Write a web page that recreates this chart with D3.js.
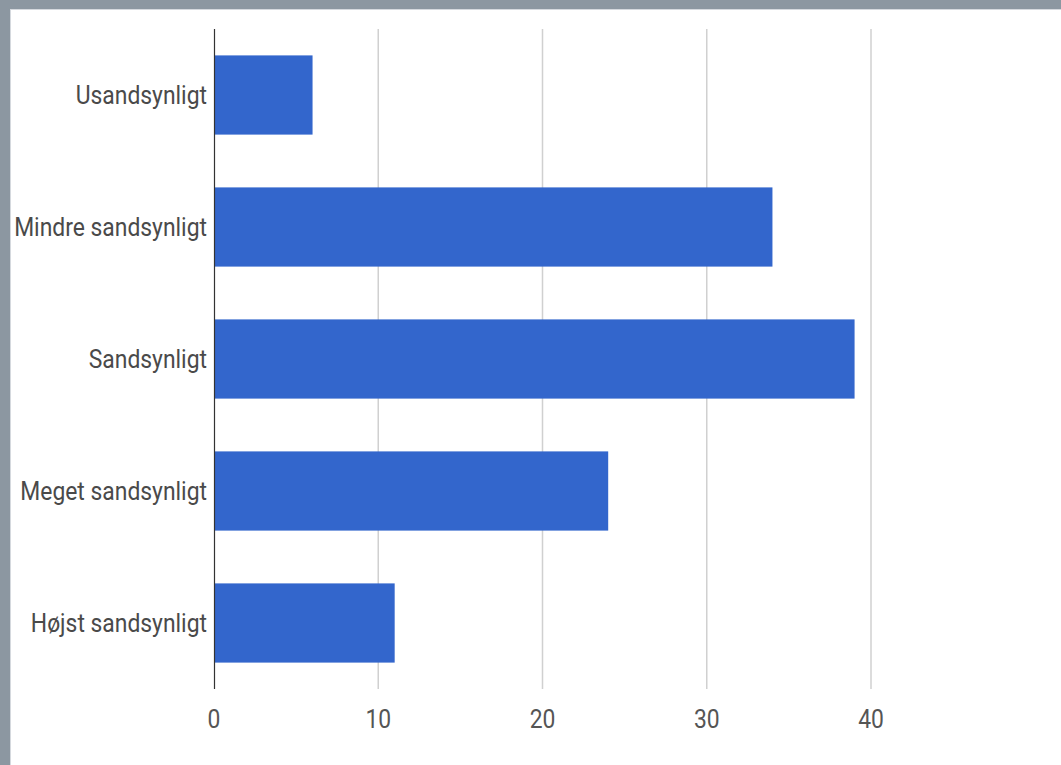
<!DOCTYPE html>
<html><head><meta charset="utf-8">
<script src="https://cdn.jsdelivr.net/npm/d3@7"></script>
<style>
html,body{margin:0;padding:0;background:#fff;}
svg{display:block;}
</style></head>
<body>
<svg id="c" width="1061" height="765"></svg>
<script>
const categories = ["Usandsynligt","Mindre sandsynligt","Sandsynligt","Meget sandsynligt","Højst sandsynligt"];
const values = [6, 34, 39, 24, 11];
const tickValues = [0, 10, 20, 30, 40];

const svg = d3.select("#c");
const W = 1061, H = 765;
// frame
svg.append("rect").attr("x",0).attr("y",0).attr("width",W).attr("height",H).attr("fill","#fff");
svg.append("rect").attr("x",0).attr("y",0).attr("width",W).attr("height",9).attr("fill","#8c97a1");
svg.append("rect").attr("x",0).attr("y",9).attr("width",W).attr("height",1).attr("fill","#d5d9de");
svg.append("rect").attr("x",0).attr("y",0).attr("width",10).attr("height",H).attr("fill","#8c97a1");
svg.append("rect").attr("x",10).attr("y",10).attr("width",1).attr("height",H).attr("fill","#d5d9de");

const x = d3.scaleLinear().domain([0,40]).range([214,871]);
const y = d3.scaleBand().domain(categories).range([29,689]).paddingInner(0.4).paddingOuter(0.2);

const font = "Roboto, 'Noto Sans', sans-serif";
const fs = 25;
const sx = 0.915;

// gridlines
svg.append("g").selectAll("line").data(tickValues.filter(d=>d>0)).join("line")
  .attr("x1",d=>x(d)).attr("x2",d=>x(d)).attr("y1",29).attr("y2",689)
  .attr("stroke","#d0d0d0").attr("stroke-width",1.5);

// bars
svg.append("g").selectAll("rect").data(values).join("rect")
  .attr("x",x(0)).attr("y",(d,i)=>y(categories[i]))
  .attr("width",d=>x(d)-x(0)).attr("height",y.bandwidth())
  .attr("fill","#3366cc");

// axis line
svg.append("line").attr("x1",x(0)+0.5).attr("x2",x(0)+0.5).attr("y1",29).attr("y2",689)
  .attr("stroke","#333").attr("stroke-width",1.2);

// y labels
svg.append("g").selectAll("text").data(categories).join("text")
  .attr("transform",d=>`translate(207,${y(d)+y.bandwidth()/2}) scale(${sx},1)`)
  .attr("text-anchor","end").attr("dy","0.35em")
  .attr("font-family",font).attr("font-size",fs).attr("fill","#4a4a4a")
  .text(d=>d);

// x tick labels
svg.append("g").selectAll("text").data(tickValues).join("text")
  .attr("transform",d=>`translate(${x(d)},728) scale(${sx},1)`)
  .attr("text-anchor","middle")
  .attr("font-family",font).attr("font-size",fs).attr("fill","#555")
  .text(d=>d);
</script>
</body></html>
